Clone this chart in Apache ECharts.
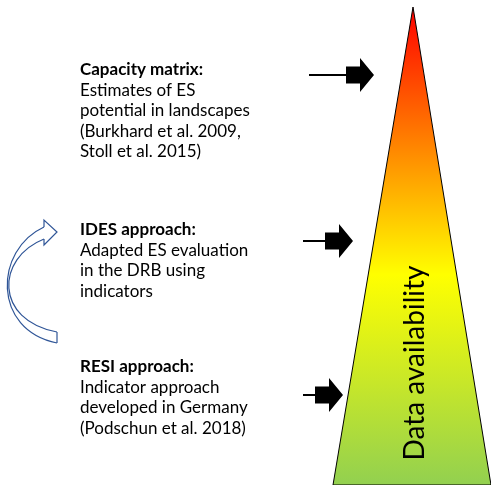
<!DOCTYPE html>
<html>
<head>
<meta charset="utf-8">
<script src="https://cdn.jsdelivr.net/npm/echarts@6/dist/echarts.min.js"></script>
<style>html,body{margin:0;padding:0;background:#fff;}#c{width:491px;height:485px;}</style>
</head>
<body>
<div id="c"></div>
<script>
// ---- data ----
const approachTitles = ['Capacity matrix:', 'IDES approach:', 'RESI approach:'];
const approachLines = [
  ['Estimates of ES', 'potential in landscapes', '(Burkhard et al. 2009,', 'Stoll et al. 2015)'],
  ['Adapted ES evaluation', 'in the DRB using', 'indicators'],
  ['Indicator approach', 'developed in Germany', '(Podschun et al. 2018)']
];
const blockTopY = [70, 230, 367];
const arrowY = [75, 241, 395];
const arrowTipX = [374, 353, 343];
const arrowTailX = [309, 303, 303];
const triangleX = [413, 333, 491];
const triangleY = [7, 485, 485];
const gradientLabel = 'Data availability';

const FONT = 'Lato, "Open Sans", sans-serif';
const textX = 80, lineH = 20.5;

const chart = echarts.init(document.getElementById('c'), null, {renderer: 'canvas'});

const option = {
  backgroundColor: '#ffffff',
  animation: false,
  grid: {left: 0, right: 0, top: 0, bottom: 0},
  xAxis: {type: 'value', min: 0, max: 491, show: false},
  yAxis: {type: 'value', min: 0, max: 485, inverse: true, show: false},
  series: [
    {
      type: 'custom', name: 'triangle',
      data: [0],
      renderItem: function (params, api) {
        const pts = triangleX.map((x, i) => api.coord([x, triangleY[i]]));
        const c = api.coord([415, 363]);
        return {
          type: 'group',
          children: [
            {
              type: 'polygon',
              shape: {points: pts},
              style: {
                fill: new echarts.graphic.LinearGradient(0, 0, 0, 1, [
                  {offset: 0, color: '#ff0000'},
                  {offset: 0.56, color: '#ffff00'},
                  {offset: 1, color: '#92d050'}
                ]),
                stroke: '#000', lineWidth: 1
              }
            },
            {
              type: 'text', x: c[0], y: c[1], rotation: Math.PI / 2,
              style: {text: gradientLabel, x: 0, y: 0, font: '28px ' + FONT, fill: '#000', align: 'center', verticalAlign: 'middle'}
            }
          ]
        };
      }
    },
    {
      type: 'custom', name: 'arrows',
      data: arrowY.map((y, i) => [arrowTailX[i], arrowTipX[i], y]),
      renderItem: function (params, api) {
        const tail = api.coord([api.value(0), api.value(2)]);
        const tip = api.coord([api.value(1), api.value(2)]);
        const y = tip[1];
        const headBase = tip[0] - 14, bodyStart = tip[0] - 28;
        return {
          type: 'group',
          children: [
            {type: 'line', shape: {x1: tail[0], y1: y, x2: bodyStart + 1, y2: y}, style: {stroke: '#000', lineWidth: 2}},
            {type: 'polygon', shape: {points: [
              [bodyStart, y - 8.5], [headBase, y - 8.5], [headBase, y - 17], [tip[0], y],
              [headBase, y + 17], [headBase, y + 8.5], [bodyStart, y + 8.5]
            ]}, style: {fill: '#000'}}
          ]
        };
      }
    },
    {
      type: 'custom', name: 'texts',
      data: approachTitles.map((t, i) => i),
      renderItem: function (params, api) {
        const i = params.dataIndex;
        const children = [];
        const p0 = api.coord([textX, blockTopY[i]]);
        children.push({type: 'text', x: p0[0], y: p0[1], style: {text: approachTitles[i], x: 0, y: 0, font: 'bold 17px ' + FONT, fill: '#000', align: 'left', verticalAlign: 'middle'}});
        approachLines[i].forEach((ln, j) => {
          const p = api.coord([textX, blockTopY[i] + (j + 1) * lineH]);
          children.push({type: 'text', x: p[0], y: p[1], style: {text: ln, x: 0, y: 0, font: '17px ' + FONT, fill: '#000', align: 'left', verticalAlign: 'middle'}});
        });
        return {type: 'group', children: children};
      }
    },
    {
      type: 'custom', name: 'cycle',
      data: [0],
      renderItem: function (params, api) {
        const P = (x, y) => api.coord([x, y]);
        const s = {stroke: '#2f5597', lineWidth: 1.2, fill: null};
        const a = P(44, 227), b = P(57, 343), c = P(44, 239), d = P(57, 332);
        const h1 = P(44, 220), ht = P(57, 232), h2 = P(44, 245);
        const c1 = P(-6, 250), c2 = P(-8, 330), c3 = P(-4, 258), c4 = P(-6, 320);
        return {
          type: 'group',
          children: [
            {type: 'bezierCurve', shape: {x1: a[0], y1: a[1], cpx1: c1[0], cpy1: c1[1], cpx2: c2[0], cpy2: c2[1], x2: b[0], y2: b[1]}, style: s},
            {type: 'bezierCurve', shape: {x1: c[0], y1: c[1], cpx1: c3[0], cpy1: c3[1], cpx2: c4[0], cpy2: c4[1], x2: d[0], y2: d[1]}, style: s},
            {type: 'line', shape: {x1: d[0], y1: d[1], x2: b[0], y2: b[1]}, style: s},
            {type: 'polyline', shape: {points: [a, h1, ht, h2, c]}, style: s}
          ]
        };
      }
    }
  ]
};
chart.setOption(option);
</script>
</body>
</html>
